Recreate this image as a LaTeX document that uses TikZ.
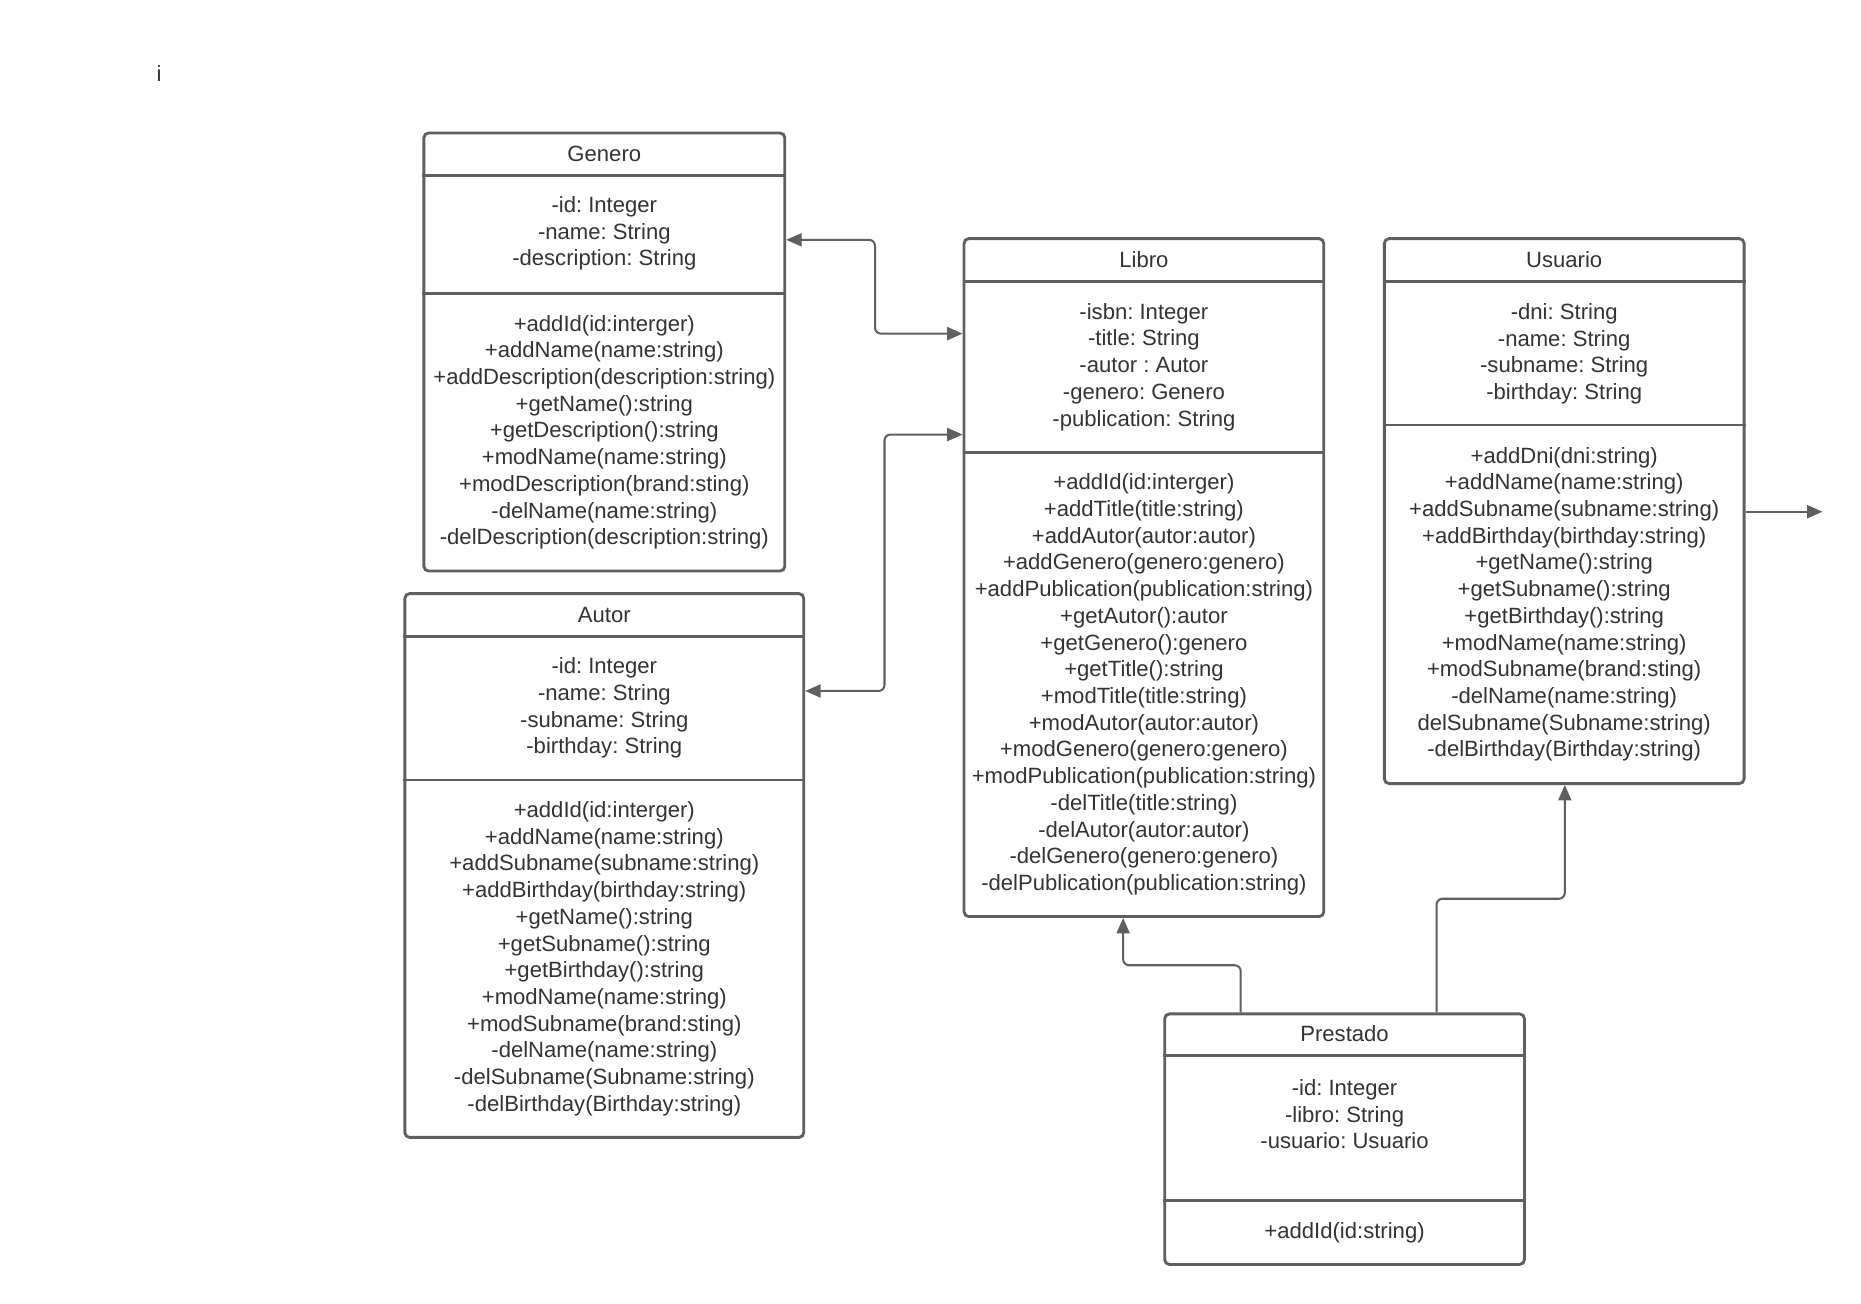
\documentclass[tikz,border=0pt]{standalone}
\usepackage{fontspec}
\setmainfont{Liberation Sans}
\usetikzlibrary{arrows.meta}
\usetikzlibrary{positioning}
\frenchspacing

\definecolor{linegray}{HTML}{5F5F5F}
\definecolor{textgray}{HTML}{333333}

\tikzset{
	classbox/.style={draw=linegray, line width=2.4pt, rounded corners=4pt, inner sep=0pt},
	divider/.style={draw=linegray, line width=2.4pt},
	classtext/.style={text=textgray, align=center, inner sep=0pt, yshift=-2pt, font=\fontsize{18.6}{22.5}\selectfont},
	link/.style={draw=linegray, line width=1.7pt, rounded corners=5pt},
	headtip/.style={-{Triangle[length=13pt,width=11pt]}},
	bothtips/.style={{Triangle[length=13pt,width=11pt]}-{Triangle[length=13pt,width=11pt]}}
}

\begin{document}
\begin{tikzpicture}[x=1pt, y=-1pt]

	\useasboundingbox (0,0) rectangle (1567.5,1098.3);
	\node [classtext] (mark) at (134,60) {i};

	% Genero
	\node [classbox, minimum width=304pt, minimum height=369pt] (genero) at (509,296.5) {};
	\draw [divider] (genero.west |- 0,148) -- (genero.east |- 0,148);
	\draw [divider] (genero.west |- 0,247) -- (genero.east |- 0,247);
	\node [classtext] (generoname) at (509,128) {Genero};
	\node [classtext] (generoattr) at (509,194.5) {-id: Integer\\-name: String\\-description: String};
	\node [classtext] (generoops) at (509,362) {+addId(id:interger)\\+addName(name:string)\\+addDescription(description:string)\\+getName():string\\+getDescription():string\\+modName(name:string)\\+modDescription(brand:sting)\\-delName(name:string)\\-delDescription(description:string)};

	% Autor
	\node [classbox, minimum width=336pt, minimum height=458pt] (autor) at (509,729) {};
	\draw [divider] (autor.west |- 0,536) -- (autor.east |- 0,536);
	\draw [divider] (autor.west |- 0,657) -- (autor.east |- 0,657);
	\node [classtext] (autorname) at (509,516) {Autor};
	\node [classtext] (autorattr) at (509,594.5) {-id: Integer\\-name: String\\-subname: String\\-birthday: String};
	\node [classtext] (autorops) at (509,805.5) {+addId(id:interger)\\+addName(name:string)\\+addSubname(subname:string)\\+addBirthday(birthday:string)\\+getName():string\\+getSubname():string\\+getBirthday():string\\+modName(name:string)\\+modSubname(brand:sting)\\-delName(name:string)\\-delSubname(Subname:string)\\-delBirthday(Birthday:string)};

	% Libro
	\node [classbox, minimum width=303pt, minimum height=571pt] (libro) at (963.5,486.5) {};
	\draw [divider] (libro.west |- 0,237) -- (libro.east |- 0,237);
	\draw [divider] (libro.west |- 0,381) -- (libro.east |- 0,381);
	\node [classtext] (libroname) at (963.5,217) {Libro};
	\node [classtext] (libroattr) at (963.5,307) {-isbn: Integer\\-title: String\\-autor : Autor\\-genero: Genero\\-publication: String};
	\node [classtext] (libroops) at (963.5,574.5) {+addId(id:interger)\\+addTitle(title:string)\\+addAutor(autor:autor)\\+addGenero(genero:genero)\\+addPublication(publication:string)\\+getAutor():autor\\+getGenero():genero\\+getTitle():string\\+modTitle(title:string)\\+modAutor(autor:autor)\\+modGenero(genero:genero)\\+modPublication(publication:string)\\-delTitle(title:string)\\-delAutor(autor:autor)\\-delGenero(genero:genero)\\-delPublication(publication:string)};

	% Usuario
	\node [classbox, minimum width=303pt, minimum height=459pt] (usuario) at (1317.5,430.5) {};
	\draw [divider] (usuario.west |- 0,237) -- (usuario.east |- 0,237);
	\draw [divider] (usuario.west |- 0,358) -- (usuario.east |- 0,358);
	\node [classtext] (usuarioname) at (1317.5,217) {Usuario};
	\node [classtext] (usuarioattr) at (1317.5,296) {-dni: String\\-name: String\\-subname: String\\-birthday: String};
	\node [classtext] (usuarioops) at (1317.5,507) {+addDni(dni:string)\\+addName(name:string)\\+addSubname(subname:string)\\+addBirthday(birthday:string)\\+getName():string\\+getSubname():string\\+getBirthday():string\\+modName(name:string)\\+modSubname(brand:sting)\\-delName(name:string)\\delSubname(Subname:string)\\-delBirthday(Birthday:string)};

	% Prestado
	\node [classbox, minimum width=303pt, minimum height=211pt] (prestado) at (1132.5,959.5) {};
	\draw [divider] (prestado.west |- 0,889) -- (prestado.east |- 0,889);
	\draw [divider] (prestado.west |- 0,1011) -- (prestado.east |- 0,1011);
	\node [classtext] (prestadoname) at (1132.5,869) {Prestado};
	\node [classtext] (prestadoattr) at (1132.5,936.5) {-id: Integer\\-libro: String\\-usuario: Usuario};
	\node [classtext] (prestadoops) at (1132.5,1036) {+addId(id:string)};

	% Connectors
	\coordinate (usuarioout) at (1535,431);
	\draw [link, bothtips] (genero.east |- 0,202) -- (737,202) |- (libro.west |- 0,281);
	\draw [link, bothtips] (autor.east |- 0,582) -- (745,582) |- (libro.west |- 0,366);
	\draw [link, headtip] (prestado.north -| 1045,0) |- (995,813) -| (libro.south -| 946,0);
	\draw [link, headtip] (prestado.north -| 1210,0) |- (1260,757) -| (usuario.south -| 1318,0);
	\draw [link, headtip] (usuario.east |- usuarioout) -- (usuarioout);

\end{tikzpicture}
\end{document}
